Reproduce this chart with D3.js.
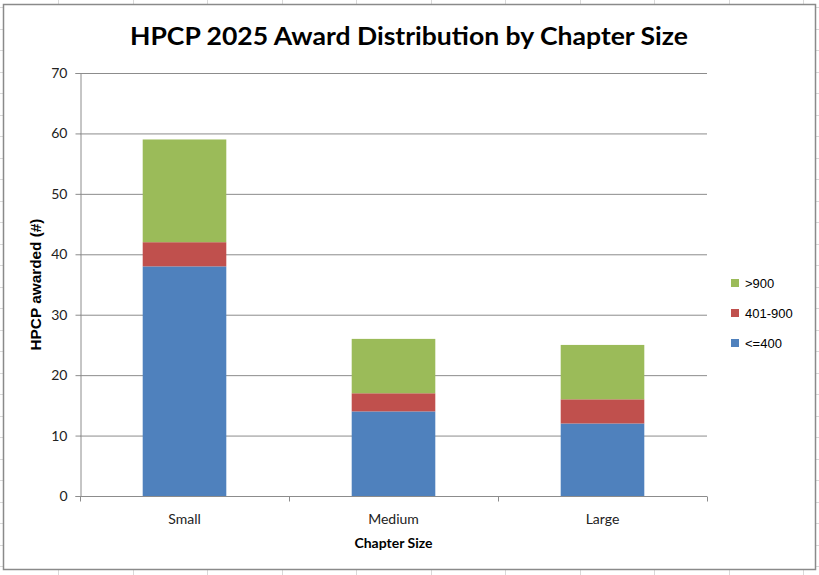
<!DOCTYPE html>
<html>
<head>
<meta charset="utf-8">
<script src="https://cdn.jsdelivr.net/npm/d3@7"></script>
<style>
  html, body { margin: 0; padding: 0; background: #fff; }
  svg { display: block; }
</style>
</head>
<body>
<div id="chart"></div>
<script>
var categories = ['Small', 'Medium', 'Large'];
var seriesNames = ['<=400', '401-900', '>900'];
var seriesColors = ['#4F81BD', '#C0504D', '#9BBB59'];
var under400 = [38, 14, 12];
var mid401to900 = [4, 3, 4];
var over900 = [17, 9, 9];
var yTicks = [0, 10, 20, 30, 40, 50, 60, 70];

var W = 819, H = 575;
var plot = { left: 80, right: 707, top: 73, bottom: 496 };

var svg = d3.select('#chart').append('svg')
    .attr('width', W)
    .attr('height', H);

drawSheetGrid();
drawFrame();

var x = d3.scaleBand()
    .domain(categories)
    .range([plot.left, plot.right])
    .paddingInner(0.6)
    .paddingOuter(0.3);

var y = d3.scaleLinear()
    .domain([0, 70])
    .range([plot.bottom, plot.top]);

var rows = categories.map(function (c, i) {
    return { cat: c, '<=400': under400[i], '401-900': mid401to900[i], '>900': over900[i] };
});
var stacked = d3.stack().keys(seriesNames)(rows);

// gridlines
svg.append('g').selectAll('line')
    .data(yTicks.slice(1))
    .join('line')
    .attr('x1', plot.left).attr('x2', plot.right)
    .attr('y1', function (d) { return y(d) + 0.5; })
    .attr('y2', function (d) { return y(d) + 0.5; })
    .attr('stroke', '#8c8c8c')
    .attr('stroke-width', 1);

// bars
svg.append('g').selectAll('g')
    .data(stacked)
    .join('g')
    .attr('fill', function (d, i) { return seriesColors[i]; })
    .selectAll('rect')
    .data(function (d) { return d; })
    .join('rect')
    .attr('x', function (d) { return x(d.data.cat); })
    .attr('width', x.bandwidth())
    .attr('y', function (d) { return y(d[1]); })
    .attr('height', function (d) { return y(d[0]) - y(d[1]); });

// y axis
var yAxis = svg.append('g')
    .attr('transform', 'translate(' + (plot.left + 0.5) + ',0)')
    .call(d3.axisLeft(y).tickValues(yTicks).tickSize(5).tickPadding(8));
styleAxis(yAxis);

// x axis: ticks at band boundaries, labels at centers
var xAxisG = svg.append('g')
    .attr('transform', 'translate(0,' + (plot.bottom + 0.5) + ')');
xAxisG.append('line')
    .attr('x1', plot.left).attr('x2', plot.right)
    .attr('stroke', '#8c8c8c');
var step = (plot.right - plot.left) / categories.length;
xAxisG.selectAll('line.tk')
    .data(d3.range(categories.length + 1))
    .join('line')
    .attr('class', 'tk')
    .attr('x1', function (i) { return Math.round(plot.left + i * step) + 0.5; })
    .attr('x2', function (i) { return Math.round(plot.left + i * step) + 0.5; })
    .attr('y1', 0).attr('y2', 5)
    .attr('stroke', '#8c8c8c');
xAxisG.selectAll('text')
    .data(categories)
    .join('text')
    .attr('x', function (d) { return x(d) + x.bandwidth() / 2; })
    .attr('y', 27)
    .attr('text-anchor', 'middle')
    .attr('font-family', 'Lato, "Open Sans", sans-serif')
    .attr('font-size', 14)
    .attr('fill', '#222')
    .text(function (d) { return d; });

// titles
svg.append('text')
    .attr('x', 409).attr('y', 45)
    .attr('text-anchor', 'middle')
    .attr('font-family', 'Lato, "Open Sans", sans-serif')
    .attr('font-weight', 'bold')
    .attr('font-size', 25)
    .attr('textLength', 558)
    .attr('lengthAdjust', 'spacingAndGlyphs')
    .attr('fill', '#000')
    .text('HPCP 2025 Award Distribution by Chapter Size');

svg.append('text')
    .attr('x', (plot.left + plot.right) / 2).attr('y', 548)
    .attr('text-anchor', 'middle')
    .attr('font-family', 'Lato, "Open Sans", sans-serif')
    .attr('font-weight', 'bold')
    .attr('font-size', 14)
    .attr('fill', '#000')
    .text('Chapter Size');

svg.append('text')
    .attr('transform', 'translate(41,' + (plot.top + plot.bottom) / 2 + ') rotate(-90)')
    .attr('text-anchor', 'middle')
    .attr('font-family', '"Liberation Sans", Arial, sans-serif')
    .attr('font-weight', 'bold')
    .attr('font-size', 14)
    .attr('textLength', 132)
    .attr('lengthAdjust', 'spacingAndGlyphs')
    .attr('fill', '#000')
    .text('HPCP awarded (#)');

// legend, top item is last series
var legend = svg.append('g').selectAll('g')
    .data(seriesNames.slice().reverse())
    .join('g')
    .attr('transform', function (d, i) { return 'translate(731,' + (279 + i * 30) + ')'; });
legend.append('rect')
    .attr('width', 8).attr('height', 8)
    .attr('fill', function (d) { return seriesColors[seriesNames.indexOf(d)]; });
legend.append('text')
    .attr('x', 14).attr('y', 8.5)
    .attr('font-family', '"Liberation Sans", Arial, sans-serif')
    .attr('font-size', 13)
    .attr('fill', '#000')
    .text(function (d) { return d; });

function styleAxis(g) {
    g.select('.domain').attr('stroke', '#8c8c8c');
    g.selectAll('.tick line').attr('stroke', '#8c8c8c');
    g.selectAll('.tick text')
        .attr('font-family', 'Lato, "Open Sans", sans-serif')
        .attr('font-size', 14)
        .attr('fill', '#222');
}

function drawSheetGrid() {
    var g = svg.append('g').attr('stroke', '#d9d9d9').attr('stroke-width', 1);
    d3.range(58, W, 74.5).forEach(function (xx) {
        g.append('line').attr('x1', Math.round(xx) + 0.5).attr('x2', Math.round(xx) + 0.5)
            .attr('y1', 0).attr('y2', H);
    });
    d3.range(7, H, 21.5).forEach(function (yy) {
        g.append('line').attr('x1', 0).attr('x2', W)
            .attr('y1', Math.round(yy) + 0.5).attr('y2', Math.round(yy) + 0.5);
    });
}

function drawFrame() {
    svg.append('rect')
        .attr('x', 3.5).attr('y', 4.5)
        .attr('width', 812).attr('height', 565)
        .attr('fill', '#fff')
        .attr('stroke', '#8a8a8a')
        .attr('stroke-width', 1.5);
}
</script>
</body>
</html>
